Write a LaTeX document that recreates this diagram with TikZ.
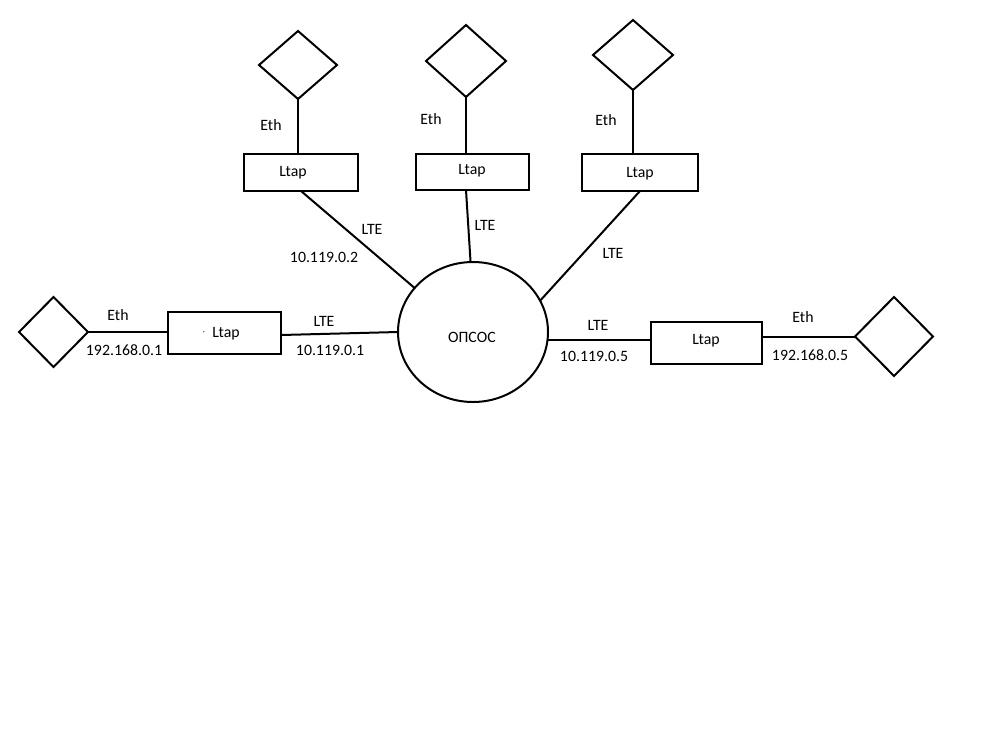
\documentclass[tikz,border=0pt]{standalone}
\usepackage{fontspec}
\setmainfont{Carlito}
\usetikzlibrary{shapes.geometric}
\begin{document}
\begin{tikzpicture}[x=1pt,y=-1pt,
  every node/.style={font=\fontsize{15.8}{18}\selectfont, inner sep=0pt, outer sep=0pt},
  ln/.style={line width=2pt, black},
  box/.style={draw, line width=2pt, rectangle},
  dev/.style={draw, line width=2pt, diamond, minimum width=78pt, minimum height=70pt},
  hub/.style={draw, line width=2pt, ellipse, minimum width=150pt, minimum height=140pt},
  lbl/.style={anchor=center}]
\useasboundingbox (0,0) rectangle (1000,750);
% central hub
\node[hub] (hub) at (473,332) {};
\node[lbl] (ht) at (472,337) {ОПСОС};
% top-left
\node[dev, minimum width=78pt, minimum height=68pt] (d1) at (298,65) {};
\node[box, minimum width=114pt, minimum height=37pt] (b1) at (301,172.5) {};
\node[lbl] (t1) at (293,173) {Ltap};
\node[lbl] (e1) at (271,125) {Eth};
\node[lbl] (l1) at (372,229) {LTE};
\node[lbl] (a1) at (324,257) {10.119.0.2};
% top-middle
\node[dev, minimum width=80pt, minimum height=72pt] (d2) at (466,61) {};
\node[box, minimum width=113pt, minimum height=36pt] (b2) at (472.5,172) {};
\node[lbl] (t2) at (472,171) {Ltap};
\node[lbl] (e2) at (431,119) {Eth};
\node[lbl] (l2) at (485,225) {LTE};
% top-right
\node[dev, minimum width=80pt, minimum height=70pt] (d3) at (633,55) {};
\node[box, minimum width=116pt, minimum height=37pt] (b3) at (640,172.5) {};
\node[lbl] (t3) at (640,174) {Ltap};
\node[lbl] (e3) at (606,120) {Eth};
\node[lbl] (l3) at (613,253) {LTE};
% left
\node[dev, minimum width=69pt, minimum height=70pt] (d4) at (53.5,332) {};
\node[box, minimum width=113pt, minimum height=42pt] (b4) at (224.5,333) {};
\node[lbl] (t4) at (226,334) {Ltap};
\node[lbl, font=\fontsize{8}{9}\selectfont] (dot4) at (204,333) {·};
\node[lbl] (e4) at (118,315) {Eth};
\node[lbl] (i4) at (124,350) {192.168.0.1};
\node[lbl] (l4) at (324,321) {LTE};
\node[lbl] (a4) at (330,350) {10.119.0.1};
% right
\node[box, minimum width=111pt, minimum height=42pt] (b5) at (706.5,343) {};
\node[lbl] (t5) at (706,341) {Ltap};
\node[dev, minimum width=78pt, minimum height=79pt] (d5) at (894,336.5) {};
\node[lbl] (l5) at (598,325) {LTE};
\node[lbl] (a5) at (594,356) {10.119.0.5};
\node[lbl] (e5) at (803,317) {Eth};
\node[lbl] (i5) at (810,355) {192.168.0.5};
% connectors
\draw[ln] (d1.south) -- (d1.south |- b1.north);
\draw[ln] (d2.south) -- (d2.south |- b2.north);
\draw[ln] (d3.south) -- (d3.south |- b3.north);
\draw[ln] (b1.south) -- (hub.143);
\draw[ln] (b2.south -| d2.south) -- (hub.92);
\draw[ln] (b3.south) -- (hub.25);
\draw[ln] (d4.east) -- (b4.west |- d4.east);
\draw[ln] (b4.east |- 0,335) -- (hub.west);
\draw[ln] (hub.east |- 0,340) -- (b5.west |- 0,340);
\draw[ln] (b5.east |- 0,337) -- (d5.west |- 0,337);
\end{tikzpicture}
\end{document}
